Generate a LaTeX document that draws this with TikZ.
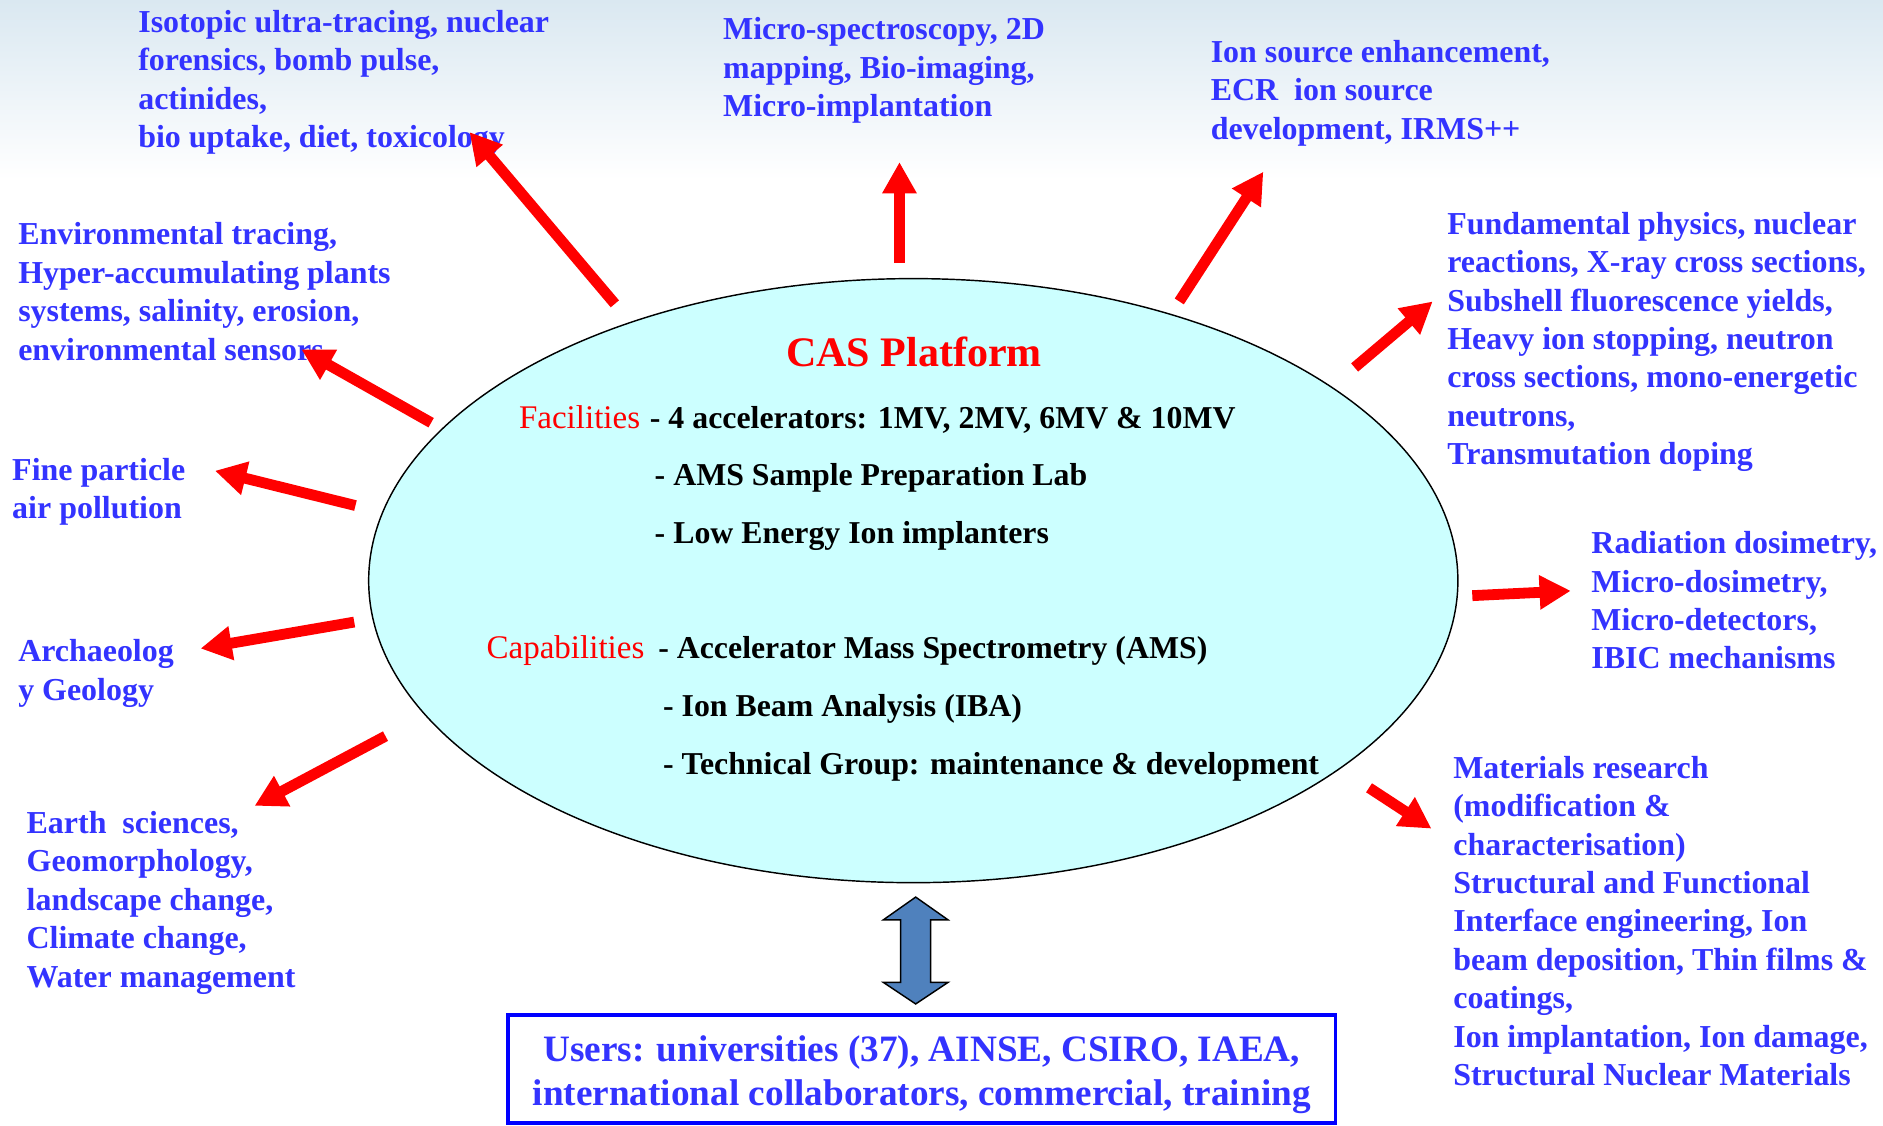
\documentclass[tikz,border=0pt]{standalone}
\usepackage{fontspec}
\setmainfont{Liberation Serif}
\usetikzlibrary{arrows.meta,shapes.geometric,calc}

\definecolor{topicblue}{RGB}{51,51,255}
\definecolor{platformfill}{RGB}{204,255,255}
\definecolor{linkblue}{RGB}{79,129,189}
\definecolor{skytop}{RGB}{218,232,241}

\begin{document}
\begin{tikzpicture}[x=1pt,y=-1pt,
  topic/.style={anchor=north west, inner sep=0pt, align=left, text=topicblue,
    font=\fontsize{26.6}{32}\selectfont\bfseries},
  item/.style={anchor=base west, inner sep=0pt, font=\fontsize{26.5}{30}\selectfont\bfseries},
  tag/.style={anchor=base west, inner sep=0pt, text=red, font=\fontsize{27.5}{30}\selectfont},
  reach/.style={draw=red, line width=9pt, -{Triangle[length=26pt,width=27pt]}},
]
\useasboundingbox (0,0) rectangle (1568,937);

% sky band along the top edge
\fill[white] (0,0) rectangle (1568,937);
\shade[top color=skytop, bottom color=white] (0,0) rectangle (1568,150);

% central platform
\node (cas) [ellipse, draw=black, line width=1.2pt, fill=platformfill,
  minimum width=907pt, minimum height=503pt, inner sep=0pt] at (760.5,483.5) {};

\node (title) [anchor=base, inner sep=0pt, text=red,
  font=\fontsize{35}{40}\selectfont\bfseries] at (761,305) {CAS Platform};

\node (fac)  [tag]  at (432,356.6) {Facilities};
\node (fac1) [item] at (541,356.6) {- 4 accelerators: 1MV, 2MV, 6MV \& 10MV};
\node (fac2) [item] at (545,404.6) {- AMS Sample Preparation Lab};
\node (fac3) [item] at (545,452.6) {- Low Energy Ion implanters};
\node (cap)  [tag]  at (405,548.6) {Capabilities};
\node (cap1) [item] at (548,548.6) {- Accelerator Mass Spectrometry (AMS)};
\node (cap2) [item] at (552,596.6) {- Ion Beam Analysis (IBA)};
\node (cap3) [item] at (552,644.6) {- Technical Group: maintenance \& development};

% application areas
\node (iso) [topic] at (115,4.4) {\strut Isotopic ultra-tracing, nuclear\\forensics, bomb pulse,\\actinides,\\bio uptake, diet, toxicology};
\node (micro) [topic] at (602,10.4) {\strut Micro-spectroscopy, 2D\\mapping, Bio-imaging,\\Micro-implantation};
\node (ion) [topic] at (1008,29.4) {\strut Ion source enhancement,\\ECR\ \ ion source\\development, IRMS++};
\node (phys) [topic] at (1205,172.4) {\strut Fundamental physics, nuclear\\reactions, X-ray cross sections,\\Subshell fluorescence yields,\\Heavy ion stopping, neutron\\cross sections, mono-energetic\\neutrons,\\Transmutation doping};
\node (rad) [topic] at (1325,438.4) {\strut Radiation dosimetry,\\Micro-dosimetry,\\Micro-detectors,\\IBIC mechanisms};
\node (mat) [topic] at (1210,625.4) {\strut Materials research\\(modification \&\\characterisation)\\Structural and Functional\\Interface engineering, Ion\\beam deposition, Thin films \&\\coatings,\\Ion implantation, Ion damage,\\Structural Nuclear Materials};
\node (env) [topic] at (15,181.4) {\strut Environmental tracing,\\Hyper-accumulating plants\\systems, salinity, erosion,\\environmental sensors};
\node (air) [topic] at (10,377.4) {\strut Fine particle\\air pollution};
\node (arch) [topic] at (15,528.4) {\strut Archaeolog\\y Geology};
\node (earth) [topic] at (22,671.4) {\strut Earth\ \ sciences,\\Geomorphology,\\landscape change,\\Climate change,\\Water management};

% users
\node (users) [draw=blue, line width=3pt, minimum width=689pt, minimum height=90pt,
  inner sep=0pt, text=topicblue] at (767.5,890) {};
\node (userstext) [inner sep=0pt, align=center, text=topicblue,
  font=\fontsize{31}{37}\selectfont\bfseries] at (767.5,895)
  {Users: universities (37), AINSE, CSIRO, IAEA,\\international collaborators, commercial, training};

% arrow ends
\coordinate (tIso)   at (512,253);  \coordinate (hIso)   at (391,110);
\coordinate (tMicro) at (749,219);  \coordinate (hMicro) at (749,135);
\coordinate (tIon)   at (982,251);  \coordinate (hIon)   at (1052,143);
\coordinate (tPhys)  at (1128,306); \coordinate (hPhys)  at (1193,251);
\coordinate (tRad)   at (1226,496); \coordinate (hRad)   at (1308,492);
\coordinate (tMat)   at (1140,656); \coordinate (hMat)   at (1192,690);
\coordinate (tEarth) at (321,613);  \coordinate (hEarth) at (212,671);
\coordinate (tArch)  at (295,518);  \coordinate (hArch)  at (167,540);
\coordinate (tAir)   at (296,421);  \coordinate (hAir)   at (179,392);
\coordinate (tEnv)   at (359,352);  \coordinate (hEnv)   at (251,291);

\foreach \a in {Iso,Micro,Ion,Phys,Rad,Mat,Earth,Arch,Air,Env}
  \draw[reach] (t\a) -- (h\a);

% two-way link between the platform and its users
\coordinate (dtop) at (762.5,747);
\coordinate (dbot) at (762.5,836);
\draw[fill=linkblue, line width=1.2pt, line join=miter]
  (dtop) -- ($(dtop)+(27,19)$) -- ($(dtop)+(12.5,19)$) -- ($(dbot)+(12.5,-18)$)
  -- ($(dbot)+(27,-18)$) -- (dbot) -- ($(dbot)+(-27,-18)$) -- ($(dbot)+(-12.5,-18)$)
  -- ($(dtop)+(-12.5,19)$) -- ($(dtop)+(-27,19)$) -- cycle;
\end{tikzpicture}
\end{document}
